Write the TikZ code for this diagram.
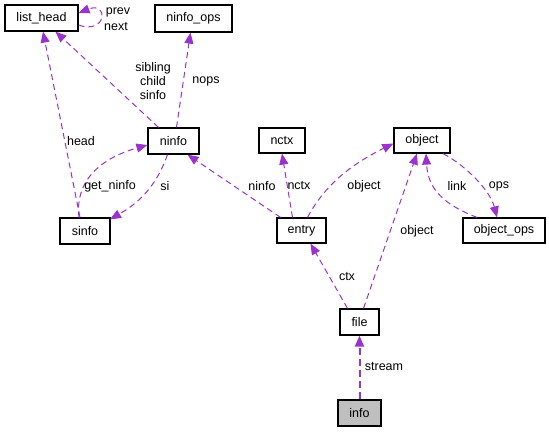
\documentclass[tikz,border=0pt]{standalone}
\usepackage{fontspec}
\setmainfont{Liberation Sans}
\usetikzlibrary{arrows.meta}
\definecolor{enlace}{HTML}{9A32CD}
\tikzset{
  clase/.style={draw=black, line width=1.2pt, fill=white, inner sep=0pt,
    font=\fontsize{12.5}{14}\selectfont},
  rel/.style={draw=enlace, line width=1pt, dash pattern=on 6pt off 4pt,
    -{Triangle[length=11pt,width=9pt,fill=enlace]}},
  etq/.style={font=\fontsize{12.5}{14}\selectfont, inner sep=0pt, align=center}
}
\begin{document}
\begin{tikzpicture}[x=1pt,y=-1pt]
% Marco de la imagen
\useasboundingbox (0,0) rectangle (549,432);

% Cajas de las clases
\node[clase, minimum width=73pt, minimum height=26pt] (list_head) at (41.5,18) {list\_head};
\node[clase, minimum width=77pt, minimum height=27pt] (ninfo_ops) at (193.5,18.5) {ninfo\_ops};
\node[clase, minimum width=51pt, minimum height=26pt] (ninfo) at (173.5,141) {ninfo};
\node[clase, minimum width=46pt, minimum height=25pt] (nctx) at (282,140.5) {nctx};
\node[clase, minimum width=56pt, minimum height=25pt] (object) at (422,140.5) {object};
\node[clase, minimum width=50pt, minimum height=26pt] (sinfo) at (85,231) {sinfo};
\node[clase, minimum width=49pt, minimum height=25pt] (entry) at (301.5,230.5) {entry};
\node[clase, minimum width=82pt, minimum height=25pt] (object_ops) at (504,230.5) {object\_ops};
\node[clase, minimum width=39pt, minimum height=26pt] (file) at (359.5,322) {file};
\node[clase, minimum width=43pt, minimum height=26pt, fill=black!25] (info) at (359.5,413) {info};

% El lazo de list_head
\draw[rel] ([yshift=-7pt]list_head.east) .. controls (107,35) and (109,1) .. ([yshift=5pt]list_head.east);
\node[etq] (l_prev) at (118,12) {prev};
\node[etq] (l_next) at (116,27) {next};

% Relaciones de ninfo
\draw[rel] ([xshift=-15pt]ninfo.north) -- ([xshift=14pt]list_head.south);
\node[etq] (l_sib) at (153,81) {sibling\\child\\sinfo};
\draw[rel] ([xshift=3pt]ninfo.north) -- ([xshift=-3pt]ninfo_ops.south);
\node[etq] (l_nops) at (206,81) {nops};
\draw[rel] ([xshift=-6pt]ninfo.south) .. controls (155,190) and (135,205) .. ([xshift=25pt,yshift=-2pt]sinfo.north);
\node[etq] (l_si) at (165,186) {si};

% Relaciones de sinfo
\draw[rel] ([xshift=-5pt]sinfo.north) -- ([xshift=1.5pt]list_head.south);
\node[etq] (l_head) at (81,141) {head};
\draw[rel] ([xshift=-6pt]sinfo.north) .. controls (75,185) and (95,160) .. ([yshift=-4pt]ninfo.west);
\node[etq] (l_get) at (110,186) {get\_ninfo};

% Relaciones de entry
\draw[rel] ([xshift=-21pt]entry.north) -- ([xshift=14pt]ninfo.south);
\node[etq] (l_ninfo) at (262,186) {ninfo};
\draw[rel] ([xshift=-9pt]entry.north) -- (nctx.south);
\node[etq] (l_nctx) at (299,186) {nctx};
\draw[rel] ([xshift=6pt]entry.north) .. controls (325,185) and (350,165) .. ([yshift=-3pt]object.west);
\node[etq] (l_obj1) at (364,186) {object};

% Relaciones de object y object_ops
\draw[rel] ([xshift=-27pt]object_ops.north) .. controls (445,205) and (428,190) .. ([xshift=4pt]object.south);
\node[etq] (l_link) at (457,186) {link};
\draw[rel] ([xshift=21pt]object.south) .. controls (465,165) and (490,190) .. ([xshift=-7pt]object_ops.north);
\node[etq] (l_ops) at (499,186) {ops};

% Relaciones de file
\draw[rel] ([xshift=4pt]file.north) -- ([xshift=-5pt]object.south);
\node[etq] (l_obj2) at (417,231) {object};
\draw[rel] ([xshift=-12pt]file.north) -- ([xshift=9pt]entry.south);
\node[etq] (l_ctx) at (347,277) {ctx};

% Relacion de info
\draw[rel, line width=2pt, dash pattern=on 7pt off 4pt] (info.north) -- (file.south);
\node[etq] (l_stream) at (384,367) {stream};
\end{tikzpicture}
\end{document}
